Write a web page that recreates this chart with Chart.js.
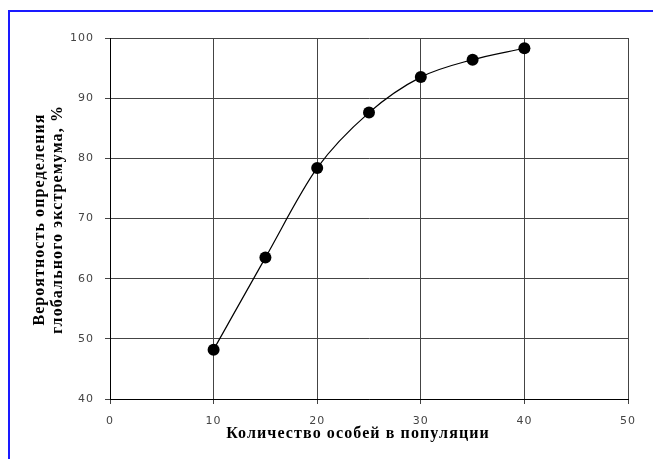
<!DOCTYPE html>
<html>
<head>
<meta charset="utf-8">
<script src="https://cdn.jsdelivr.net/npm/chart.js@4"></script>
<style>
  html, body { margin: 0; padding: 0; background: #fff; }
  #wrap { position: relative; width: 653px; height: 459px; }
</style>
</head>
<body>
<div id="wrap"><canvas id="chart" width="653" height="459"></canvas></div>
<script>
// Данные графика
const populationSize = [10, 15, 20, 25, 30, 35, 40];
const probability = [48.2, 63.5, 78.4, 87.6, 93.5, 96.4, 98.3];
const xTicks = [0, 10, 20, 30, 40, 50];
const yTicks = [40, 50, 60, 70, 80, 90, 100];

const xTitle = 'Количество особей в популяции';
const yTitle = ['Вероятность определения', 'глобального экстремума, %'];

// фон, синяя рамка и разрядка подписей делений
const framePlugin = {
    id: 'frame',
    beforeDraw(chart) {
        const ctx = chart.ctx;
        ctx.fillStyle = '#fff';
        ctx.fillRect(0, 0, chart.width, chart.height);
        ctx.fillStyle = '#1a1aff';
        ctx.fillRect(8, 10, 2, chart.height - 10);
        ctx.fillRect(8, 10, chart.width - 8, 2);
        ctx.letterSpacing = '1px';
    },
    // подписи осей рисуем сами (ось X смещена влево, как в оригинале)
    afterDraw(chart) {
        const ctx = chart.ctx;
        const area = chart.chartArea;
        ctx.save();
        ctx.letterSpacing = '1.1px';
        ctx.fillStyle = '#000';
        ctx.font = 'bold 16px "Liberation Serif"';
        ctx.textAlign = 'center';
        ctx.textBaseline = 'middle';
        ctx.fillText(xTitle, (area.left + area.right) / 2 - 11, 434);
        const cy = (area.top + area.bottom) / 2 + 1;
        yTitle.forEach((line, i) => {
            ctx.save();
            ctx.translate(40 + i * 18, cy);
            ctx.rotate(-Math.PI / 2);
            ctx.fillText(line, 0, 0);
            ctx.restore();
        });
        ctx.restore();
    }
};

const points = populationSize.map((x, i) => ({ x: x, y: probability[i] }));

new Chart(document.getElementById('chart'), {
    type: 'line',
    data: {
        datasets: [{
            data: points,
            borderColor: '#000',
            borderWidth: 1.2,
            cubicInterpolationMode: 'monotone',
            pointRadius: 6,
            pointBackgroundColor: '#000',
            pointBorderColor: '#000',
            pointBorderWidth: 0
        }]
    },
    options: {
        responsive: false,
        animation: false,
        layout: { padding: { left: 0, top: 38, right: 25, bottom: 0 } },
        plugins: { legend: { display: false }, tooltip: { enabled: false } },
        scales: {
            x: {
                type: 'linear',
                min: 0, max: 50,
                afterBuildTicks: s => { s.ticks = xTicks.map(v => ({ value: v })); },
                afterFit: s => { s.height = 60; },
                grid: { color: '#444', lineWidth: 1, tickLength: 5 },
                border: { color: '#000', width: 1 },
                ticks: {
                    color: '#444',
                    padding: 11,
                    font: { family: 'DejaVu Sans', size: 11 }
                }
            },
            y: {
                min: 40, max: 100,
                afterBuildTicks: s => { s.ticks = yTicks.map(v => ({ value: v })); },
                afterFit: s => { s.width = 110; },
                grid: { color: '#444', lineWidth: 1, tickLength: 5 },
                border: { color: '#000', width: 1 },
                ticks: {
                    color: '#444',
                    padding: 11,
                    font: { family: 'DejaVu Sans', size: 11 }
                }
            }
        }
    },
    plugins: [framePlugin]
});
</script>
</body>
</html>
